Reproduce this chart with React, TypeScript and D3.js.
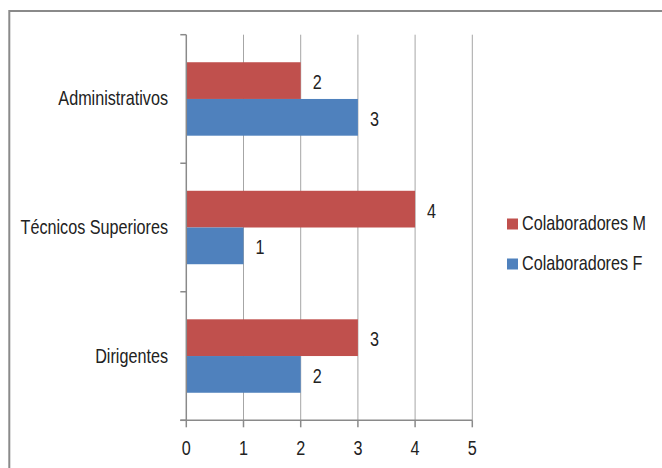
import React from "react";
import * as d3 from "d3";

const categories = ["Administrativos", "Técnicos Superiores", "Dirigentes"];
const seriesNames = ["Colaboradores M", "Colaboradores F"];
const colabM = [2, 4, 3];
const colabF = [3, 1, 2];
const xTicks = [0, 1, 2, 3, 4, 5];
const colors = ["#C0504D", "#4F81BD"];

const W = 662;
const H = 468;
const FONT = "'Liberation Sans', Arial, sans-serif";
const FS = 19.5;
const NARROW = 0.83;

type LabelProps = {
  x: number;
  y: number;
  anchor?: "start" | "middle" | "end";
  children: React.ReactNode;
};

// Condensed text: regular sans squeezed horizontally around its anchor point
function Label({ x, y, anchor = "start", children }: LabelProps) {
  return (
    <text
      transform={`translate(${x},${y}) scale(${NARROW},1)`}
      textAnchor={anchor}
      fontFamily={FONT}
      fontSize={FS}
      fill="#222"
    >
      {children}
    </text>
  );
}

export default function App() {
  const x = d3.scaleLinear().domain([0, 5]).range([186.3, 472.3]);
  const y = d3
    .scaleBand<string>()
    .domain(categories)
    .range([34.7, 420.3])
    .paddingInner(1.5 / 3.5)
    .paddingOuter(0.75 / 3.5);
  const step = y.step();
  const sub = d3.scaleBand<string>().domain(seriesNames).range([0, y.bandwidth()]);
  const series = [colabM, colabF];
  const [y0, y1] = y.range();
  const tickBounds = d3.range(categories.length + 1).map((i) => y0 + i * step);

  return (
    <svg
      width={W}
      height={H}
      style={{ position: "absolute", left: 0, top: 0, display: "block", background: "#fff" }}
    >
      {/* chart frame */}
      <rect x={9.3} y={11} width={W + 20} height={H + 20} fill="#fff" stroke="#8a8a8a" strokeWidth={2} />

      {/* vertical gridlines */}
      {xTicks.slice(1).map((t) => (
        <line key={"g" + t} x1={x(t)} x2={x(t)} y1={y0} y2={y1} stroke="#a6a6a6" strokeWidth={1} />
      ))}

      {/* bars */}
      {series.map((vals, si) =>
        categories.map((c, ci) => (
          <rect
            key={si + "-" + ci}
            x={x(0)}
            y={(y(c) as number) + (sub(seriesNames[si]) as number)}
            width={x(vals[ci]) - x(0)}
            height={sub.bandwidth()}
            fill={colors[si]}
          />
        ))
      )}

      {/* value labels */}
      {series.map((vals, si) =>
        categories.map((c, ci) => (
          <Label
            key={"v" + si + "-" + ci}
            x={x(vals[ci]) + 12}
            y={(y(c) as number) + (sub(seriesNames[si]) as number) + sub.bandwidth() / 2 + 8.5}
          >
            {vals[ci]}
          </Label>
        ))
      )}

      {/* y axis */}
      <line x1={x(0)} x2={x(0)} y1={y0} y2={y1} stroke="#8a8a8a" strokeWidth={1.5} />
      {tickBounds.map((v, i) => (
        <line key={"yt" + i} x1={x(0) - 6} x2={x(0)} y1={v} y2={v} stroke="#8a8a8a" strokeWidth={1.5} />
      ))}
      {categories.map((c) => (
        <Label key={"c" + c} x={168} y={(y(c) as number) + y.bandwidth() / 2 + 6.5} anchor="end">
          {c}
        </Label>
      ))}

      {/* x axis */}
      <line x1={x(0) - 6} x2={x(5)} y1={y1} y2={y1} stroke="#8a8a8a" strokeWidth={1.5} />
      {xTicks.map((t) => (
        <g key={"xt" + t}>
          <line x1={x(t)} x2={x(t)} y1={y1} y2={y1 + 7} stroke="#8a8a8a" strokeWidth={1.5} />
          <Label x={x(t)} y={455} anchor="middle">
            {t}
          </Label>
        </g>
      ))}

      {/* legend */}
      {seriesNames.map((s, i) => (
        <g key={"l" + s}>
          <rect x={507} y={230 + i * 40 - 11.5} width={11} height={11} fill={colors[i]} />
          <Label x={522} y={230 + i * 40}>
            {s}
          </Label>
        </g>
      ))}
    </svg>
  );
}
